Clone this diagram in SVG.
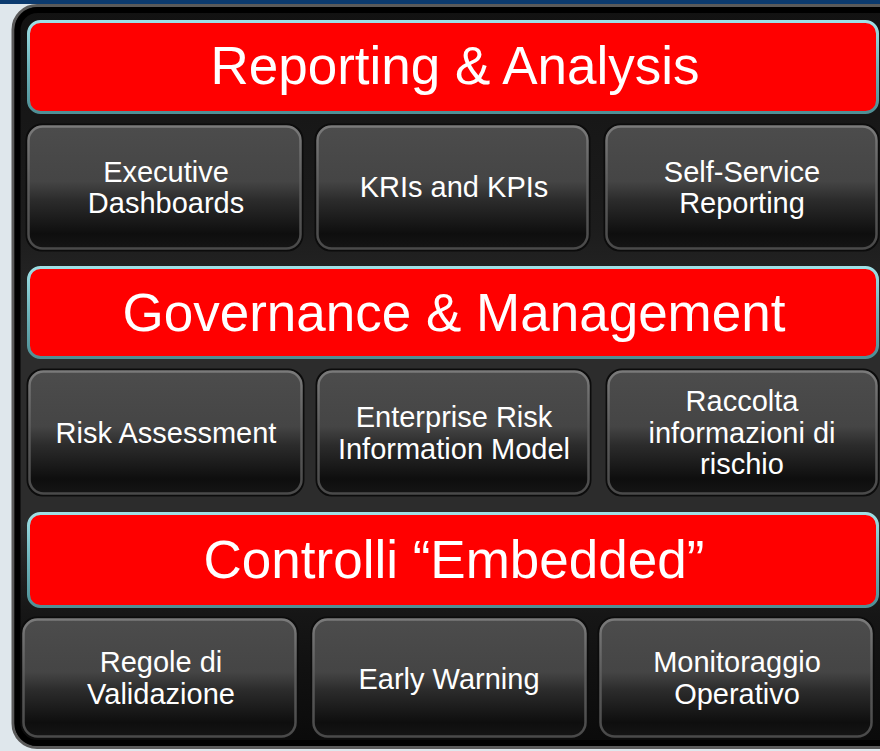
<svg xmlns="http://www.w3.org/2000/svg" width="880" height="751" viewBox="0 0 880 751">
  <defs>
    <linearGradient id="panelFill" x1="0" y1="0" x2="0" y2="1">
      <stop offset="0" stop-color="#121212"/>
      <stop offset="0.3" stop-color="#1c1c1c"/>
      <stop offset="0.45" stop-color="#2c2c2c"/>
      <stop offset="0.7" stop-color="#2c2c2c"/>
      <stop offset="0.82" stop-color="#161616"/>
      <stop offset="1" stop-color="#0a0a0a"/>
    </linearGradient>
    <linearGradient id="tileFill" x1="0" y1="0" x2="0" y2="1">
      <stop offset="0" stop-color="#4c4c4c"/>
      <stop offset="0.45" stop-color="#454545"/>
      <stop offset="0.6" stop-color="#2c2c2c"/>
      <stop offset="0.88" stop-color="#0e0e0e"/>
      <stop offset="1" stop-color="#151515"/>
    </linearGradient>
    <linearGradient id="tileStroke" x1="0" y1="0" x2="0" y2="1">
      <stop offset="0" stop-color="#7a7a7a"/>
      <stop offset="0.5" stop-color="#5a5a5a"/>
      <stop offset="1" stop-color="#4a4a4a"/>
    </linearGradient>
    <linearGradient id="bannerStroke" x1="0" y1="0" x2="0" y2="1">
      <stop offset="0" stop-color="#9fe0e6"/>
      <stop offset="0.5" stop-color="#6fb4bb"/>
      <stop offset="1" stop-color="#4f8f95"/>
    </linearGradient>
  </defs>
  <style>
    .banner { fill: #ff0000; stroke: url(#bannerStroke); stroke-width: 3; }
    .tile-shadow { fill: none; stroke: #0c0c0c; stroke-width: 3; }
    .tile { fill: url(#tileFill); stroke: url(#tileStroke); stroke-width: 2.5; }
    .btxt { font-family: "Liberation Sans", Arial, sans-serif; font-size: 53px; fill: #ffffff; text-anchor: middle; }
    .ttxt { font-family: "Liberation Sans", Arial, sans-serif; font-size: 29px; fill: #ffffff; text-anchor: middle; }
  </style>

  <rect x="0" y="0" width="880" height="751" fill="#dfe7ec"/>
  <rect x="0" y="0" width="880" height="4" fill="#0b3a6e"/>

  <g id="panel">
    <rect x="13" y="5.5" width="890" height="742" rx="24" fill="url(#panelFill)" stroke="#5a5a5a" stroke-width="3"/>
    <rect x="17.5" y="10" width="890" height="733" rx="20" fill="none" stroke="#000000" stroke-width="6"/>
  </g>

  <g id="banner-reporting">
    <rect class="banner" x="28.5" y="21.5" width="849" height="91" rx="12"/>
    <text class="btxt" x="455" y="84">Reporting &amp; Analysis</text>
  </g>
  <g id="banner-governance">
    <rect class="banner" x="28.5" y="267.5" width="849" height="90" rx="12"/>
    <text class="btxt" x="454" y="331">Governance &amp; Management</text>
  </g>
  <g id="banner-controlli">
    <rect class="banner" x="28.5" y="513.5" width="849" height="93" rx="12"/>
    <text class="btxt" x="454" y="578">Controlli “Embedded”</text>
  </g>

  <g id="tile-executive-dashboards">
    <rect class="tile-shadow" x="27" y="125" width="275" height="125" rx="15"/>
    <rect class="tile" x="28.5" y="126.5" width="272" height="122" rx="14"/>
    <text class="ttxt" x="166" y="182">Executive</text>
    <text class="ttxt" x="166" y="213">Dashboards</text>
  </g>
  <g id="tile-kris-kpis">
    <rect class="tile-shadow" x="316" y="125" width="273" height="125" rx="15"/>
    <rect class="tile" x="317.5" y="126.5" width="270" height="122" rx="14"/>
    <text class="ttxt" x="454" y="197">KRIs and KPIs</text>
  </g>
  <g id="tile-self-service">
    <rect class="tile-shadow" x="605" y="125" width="273" height="125" rx="15"/>
    <rect class="tile" x="606.5" y="126.5" width="270" height="122" rx="14"/>
    <text class="ttxt" x="742" y="182">Self-Service</text>
    <text class="ttxt" x="742" y="213">Reporting</text>
  </g>

  <g id="tile-risk-assessment">
    <rect class="tile-shadow" x="28" y="370" width="275" height="125" rx="15"/>
    <rect class="tile" x="29.5" y="371.5" width="272" height="122" rx="14"/>
    <text class="ttxt" x="166" y="443">Risk Assessment</text>
  </g>
  <g id="tile-erim">
    <rect class="tile-shadow" x="317" y="370" width="273" height="125" rx="15"/>
    <rect class="tile" x="318.5" y="371.5" width="270" height="122" rx="14"/>
    <text class="ttxt" x="454" y="427">Enterprise Risk</text>
    <text class="ttxt" x="454" y="459">Information Model</text>
  </g>
  <g id="tile-raccolta">
    <rect class="tile-shadow" x="607" y="370" width="271" height="125" rx="15"/>
    <rect class="tile" x="608.5" y="371.5" width="268" height="122" rx="14"/>
    <text class="ttxt" x="742" y="411">Raccolta</text>
    <text class="ttxt" x="742" y="443">informazioni di</text>
    <text class="ttxt" x="742" y="474">rischio</text>
  </g>

  <g id="tile-regole">
    <rect class="tile-shadow" x="22" y="618" width="275" height="120" rx="15"/>
    <rect class="tile" x="23.5" y="619.5" width="272" height="117" rx="14"/>
    <text class="ttxt" x="161" y="672">Regole di</text>
    <text class="ttxt" x="161" y="704">Validazione</text>
  </g>
  <g id="tile-early-warning">
    <rect class="tile-shadow" x="312" y="618" width="275" height="120" rx="15"/>
    <rect class="tile" x="313.5" y="619.5" width="272" height="117" rx="14"/>
    <text class="ttxt" x="449" y="689">Early Warning</text>
  </g>
  <g id="tile-monitoraggio">
    <rect class="tile-shadow" x="599" y="618" width="274" height="120" rx="15"/>
    <rect class="tile" x="600.5" y="619.5" width="271" height="117" rx="14"/>
    <text class="ttxt" x="737" y="672">Monitoraggio</text>
    <text class="ttxt" x="737" y="704">Operativo</text>
  </g>

  <g id="connectors"></g>
</svg>
